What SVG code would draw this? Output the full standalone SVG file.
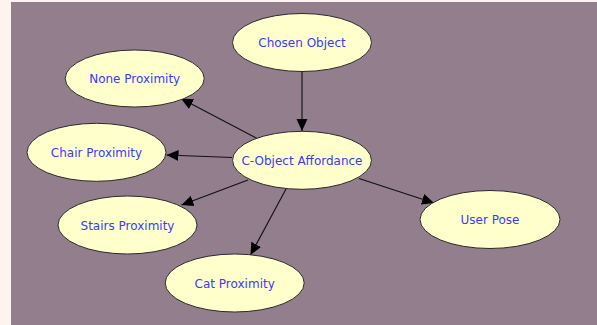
<svg xmlns="http://www.w3.org/2000/svg" width="597" height="325" viewBox="0 0 597 325">
<style>
.n ellipse{fill:#ffffcc;stroke:#2a2a2a;stroke-width:1}
.n text{font-family:"DejaVu Sans",sans-serif;font-size:12px;fill:#3a3aff;text-anchor:middle;dominant-baseline:central}
.e line{stroke:#111;stroke-width:1.1;marker-end:url(#ah)}
</style>
<defs>
<marker id="ah" markerUnits="userSpaceOnUse" markerWidth="14" markerHeight="12" refX="12" refY="5.5" orient="auto">
<path d="M0,0 L12,5.5 L0,11 Z" fill="#000"/>
</marker>
</defs>
<rect x="0" y="0" width="597" height="325" fill="#fdf4f0"/>
<rect x="11" y="2" width="586" height="323" fill="#927e8d"/>
<g class="e">
<line x1="302" y1="72" x2="302" y2="131"/>
<line x1="257" y1="138.5" x2="181" y2="98.5"/>
<line x1="232" y1="157.5" x2="166.5" y2="155"/>
<line x1="248" y1="180" x2="181.5" y2="205"/>
<line x1="286" y1="189" x2="250.5" y2="255"/>
<line x1="359" y1="178.5" x2="434" y2="203"/>
</g>
<g id="chosen" class="n"><ellipse cx="302" cy="42.5" rx="69.5" ry="29"/><text x="302" y="43">Chosen Object</text></g>
<g id="none" class="n"><ellipse cx="134.7" cy="78.5" rx="69.5" ry="28.5"/><text x="134.7" y="79">None Proximity</text></g>
<g id="chair" class="n"><ellipse cx="96.5" cy="152.3" rx="69.5" ry="29"/><text x="96.5" y="153">Chair Proximity</text></g>
<g id="caff" class="n"><ellipse cx="302" cy="160.3" rx="69.5" ry="29"/><text x="302" y="161">C-Object Affordance</text></g>
<g id="stairs" class="n"><ellipse cx="127.5" cy="225" rx="69.5" ry="29"/><text x="127.5" y="225.5">Stairs Proximity</text></g>
<g id="user" class="n"><ellipse cx="490" cy="219.5" rx="70" ry="29"/><text x="490" y="220">User Pose</text></g>
<g id="cat" class="n"><ellipse cx="234.7" cy="283" rx="69.5" ry="29"/><text x="234.7" y="283.5">Cat Proximity</text></g>
</svg>
